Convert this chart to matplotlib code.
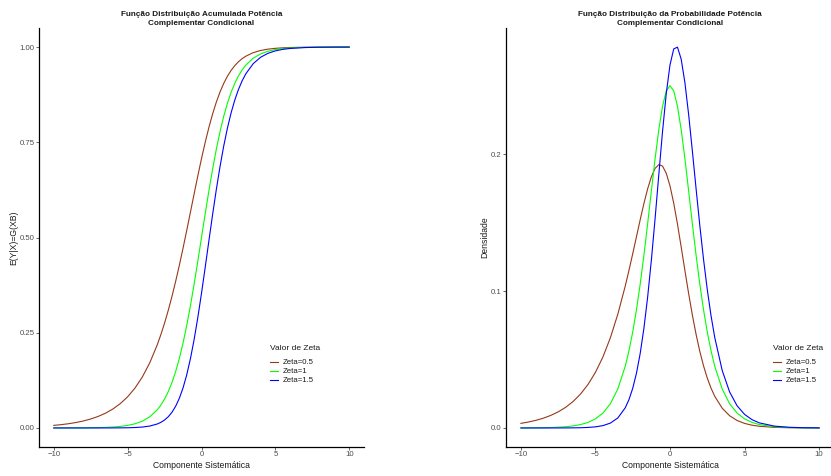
import matplotlib
matplotlib.use("Agg")
import matplotlib.pyplot as plt

plt.rcParams['font.family'] = ['Liberation Sans', 'DejaVu Sans']

# x values (Componente Sistemática)
x = [-10, -9.5, -9, -8.5, -8, -7.5, -7, -6.5, -6, -5.5, -5, -4.5, -4, -3.5,
     -3, -2.75, -2.5, -2.25, -2, -1.75, -1.5, -1.25, -1, -0.75, -0.5, -0.25,
     0, 0.25, 0.5, 0.75, 1, 1.25, 1.5, 1.75, 2, 2.25, 2.5, 2.75, 3,
     3.5, 4, 4.5, 5, 5.5, 6, 7, 8, 9, 10]

# Cumulative distribution values
cdf_05 = [0.006738, 0.008651, 0.011108, 0.014263, 0.018313, 0.023511, 0.030184, 0.038745, 0.049725, 0.063798,
          0.081810, 0.104819, 0.134112, 0.171208,
          0.217775, 0.245126, 0.275423, 0.308788, 0.345258, 0.384769, 0.427114, 0.471911, 0.518595, 0.566411,
          0.614444, 0.661682, 0.707107, 0.749785, 0.788961, 0.824123, 0.855020, 0.881646, 0.904198, 0.923013,
          0.938508, 0.951131, 0.961323, 0.969491, 0.976000, 0.985235, 0.990966, 0.994492, 0.996643, 0.997963,
          0.998763, 0.999544, 0.999832, 0.999938, 0.999977]
cdf_1 = [0.000045, 0.000075, 0.000123, 0.000203, 0.000335, 0.000553, 0.000911, 0.001501, 0.002473, 0.004070,
         0.006693, 0.010987, 0.017986, 0.029312,
         0.047426, 0.060087, 0.075858, 0.095350, 0.119203, 0.148047, 0.182426, 0.222700, 0.268941, 0.320821,
         0.377541, 0.437823, 0.500000, 0.562177, 0.622459, 0.679179, 0.731059, 0.777300, 0.817574, 0.851953,
         0.880797, 0.904650, 0.924142, 0.939913, 0.952574, 0.970688, 0.982014, 0.989013, 0.993307, 0.995930,
         0.997527, 0.999089, 0.999665, 0.999877, 0.999955]
cdf_15 = [0.0000003, 0.0000006, 0.0000014, 0.0000029, 0.0000061, 0.0000130, 0.0000275, 0.0000582, 0.000123, 0.000260,
          0.000548, 0.001152, 0.002412, 0.005019,
          0.010328, 0.014729, 0.020893, 0.029443, 0.041156, 0.056964, 0.077917, 0.105095, 0.139471, 0.181717,
          0.231978, 0.289699, 0.353553, 0.421512, 0.491096, 0.559726, 0.625070, 0.685303, 0.739249, 0.786364,
          0.826635, 0.860441, 0.888399, 0.911237, 0.929712, 0.956356, 0.973143, 0.983566, 0.989973, 0.993901,
          0.996293, 0.998633, 0.999497, 0.999815, 0.999932]

# Density values
dens_05 = [0.003369, 0.004325, 0.005553, 0.007130, 0.009153, 0.011749, 0.015078, 0.019343, 0.024801, 0.031769,
           0.040631, 0.051834, 0.065850, 0.083095,
           0.103723, 0.115198, 0.127265, 0.139673, 0.152051, 0.163903, 0.174599, 0.183408, 0.189562, 0.192347,
           0.191233, 0.185993, 0.176777, 0.164136, 0.148932, 0.132198, 0.114975, 0.098171, 0.082475, 0.068325,
           0.055937, 0.045345, 0.036462, 0.029127, 0.023144, 0.014440, 0.008912, 0.005463, 0.003335, 0.002031,
           0.001235, 0.000455, 0.000167, 0.000062, 0.000023]
dens_1 = [0.000045, 0.000075, 0.000123, 0.000203, 0.000335, 0.000552, 0.000910, 0.001499, 0.002467, 0.004054,
          0.006648, 0.010866, 0.017663, 0.028453,
          0.045177, 0.056476, 0.070104, 0.086259, 0.104994, 0.126129, 0.149146, 0.173107, 0.196612, 0.217895,
          0.235004, 0.246131, 0.250000, 0.246131, 0.235004, 0.217895, 0.196612, 0.173107, 0.149146, 0.126129,
          0.104994, 0.086259, 0.070104, 0.056476, 0.045177, 0.028453, 0.017663, 0.010866, 0.006648, 0.004054,
          0.002467, 0.000910, 0.000335, 0.000123, 0.000045]
dens_15 = [0.0000005, 0.0000010, 0.0000021, 0.0000044, 0.0000092, 0.0000195, 0.0000412, 0.0000871, 0.000184, 0.000388,
           0.000816, 0.001708, 0.003553, 0.007307,
           0.014757, 0.020766, 0.028962, 0.039953, 0.054375, 0.072796, 0.095554, 0.122536, 0.152942, 0.185127,
           0.216594, 0.244295, 0.265165, 0.276821, 0.278114, 0.269358, 0.252161, 0.228925, 0.202286, 0.174628,
           0.147807, 0.123064, 0.101088, 0.082130, 0.066139, 0.042049, 0.026254, 0.016210, 0.009939, 0.006068,
           0.003696, 0.001365, 0.000502, 0.000185, 0.000068]

labels = ["Zeta=0.5", "Zeta=1", "Zeta=1.5"]
colors = ["#96381A", "#00FF00", "#0000FF"]

left_title = "Função Distribuição Acumulada Potência\nComplementar Condicional"
right_title = "Função Distribuição da Probabilidade Potência\nComplementar Condicional"
xlabel = "Componente Sistemática"
left_ylabel = "E(Y|X)=G(XB)"
right_ylabel = "Densidade"
legend_title = "Valor de Zeta"

W, H = 831, 476
fig = plt.figure(figsize=(W / 100, H / 100), dpi=100)

ax1 = fig.add_axes([39 / W, (H - 447) / H, 325 / W, 419 / H])
ax2 = fig.add_axes([506 / W, (H - 447) / H, 328 / W, 419 / H])

tick_color = "#4D4D4D"
text_color = "#1A1A1A"


def style(ax):
    for s in ["top", "right"]:
        ax.spines[s].set_visible(False)
    for s in ["left", "bottom"]:
        ax.spines[s].set_linewidth(0.9)
        ax.spines[s].set_color("black")
    ax.tick_params(axis="both", colors=tick_color, labelsize=5.6, length=2.2, width=0.6, pad=1.0)
    ax.set_xlim(-11, 11)
    ax.set_xticks([-10, -5, 0, 5, 10])
    ax.set_xticklabels(["\u221210", "\u22125", "0", "5", "10"])
    ax.set_xlabel(xlabel, fontsize=6.2, color=text_color, labelpad=2)


for ax, series, title, ylabel in [
    (ax1, [cdf_05, cdf_1, cdf_15], left_title, left_ylabel),
    (ax2, [dens_05, dens_1, dens_15], right_title, right_ylabel),
]:
    for ys, c, lab in zip(series, colors, labels):
        ax.plot(x, ys, color=c, lw=0.8, label=lab)
    style(ax)
    ax.set_title(title, fontsize=5.9, fontweight="bold", color=text_color, pad=2.5, linespacing=1.3)
    ax.set_ylabel(ylabel, fontsize=6.2, color=text_color, labelpad=1.2)

ax1.set_ylim(-0.05, 1.05)
ax1.set_yticks([0, 0.25, 0.5, 0.75, 1.0])
ax1.set_yticklabels(["0.00", "0.25", "0.50", "0.75", "1.00"])

ax2.set_ylim(-0.0139, 0.2921)
ax2.set_yticks([0, 0.1, 0.2])
ax2.set_yticklabels(["0.0", "0.1", "0.2"])

for ax, loc in [(ax1, (270 / W, (H - 345) / H)), (ax2, (773 / W, (H - 345) / H))]:
    leg = ax.legend(title=legend_title, loc="upper left", bbox_to_anchor=loc,
                    bbox_transform=fig.transFigure, frameon=False, fontsize=5.6,
                    title_fontsize=6.0, handlelength=1.05, handletextpad=0.55,
                    labelspacing=0.2, borderpad=0.0, borderaxespad=0.0)
    leg._legend_box.align = "left"
    leg._legend_box.sep = 5
    for t in leg.get_texts():
        t.set_color(text_color)
    leg.get_title().set_color(text_color)

fig.savefig("out.png", dpi=100)
